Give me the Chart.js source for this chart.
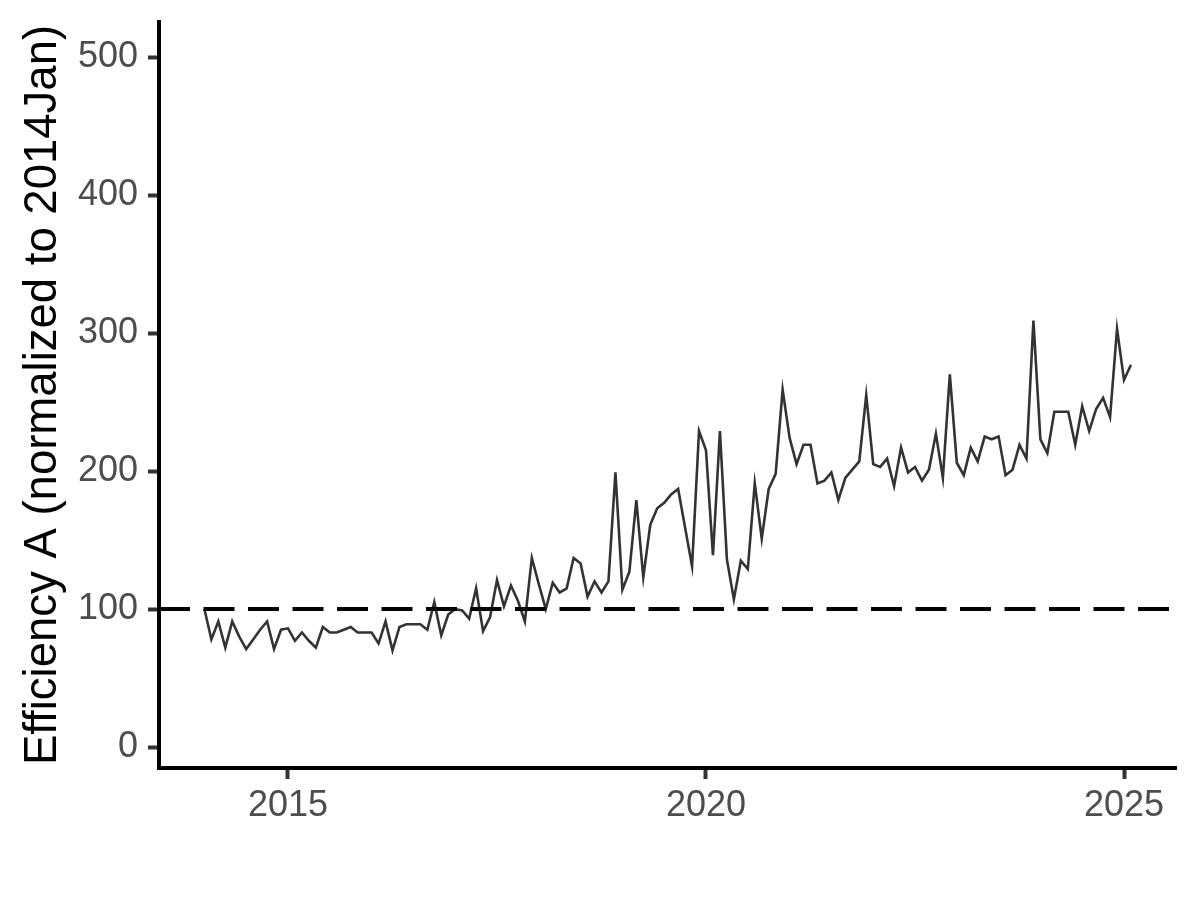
<!DOCTYPE html>
<html>
<head>
<meta charset="utf-8">
<script src="https://cdn.jsdelivr.net/npm/chart.js@4.4.1/dist/chart.umd.min.js"></script>
<style>
  html, body { margin: 0; padding: 0; background: #fff; }
  canvas { display: block; }
</style>
</head>
<body>
<canvas id="chart" width="1200" height="900"></canvas>
<script>
// monthly values, Jan..Dec
const startYear = 2014;
const v2014 = [100, 78, 91, 72, 91, 80, 71, 78, 85, 91, 71, 85];
const v2015 = [86, 77, 83, 77, 72, 87, 83, 83, 85, 87, 83, 83];
const v2016 = [83, 75, 91, 70, 87, 89, 89, 89, 85, 105, 81, 96];
const v2017 = [100, 99, 93, 115, 84, 94, 121, 102, 117, 106, 91, 137];
const v2018 = [118, 100, 119, 112, 115, 137, 133, 109, 120, 112, 120, 199];
const v2019 = [114, 127, 179, 123, 161, 173, 177, 183, 187, 159, 131, 229];
const v2020 = [215, 139, 229, 136, 107, 135, 129, 191, 151, 187, 198, 259];
const v2021 = [224, 205, 219, 219, 191, 193, 199, 179, 195, 201, 207, 255];
const v2022 = [205, 203, 209, 189, 217, 199, 203, 193, 201, 227, 195, 270];
const v2023 = [206, 197, 217, 207, 225, 223, 225, 197, 201, 219, 209, 309];
const v2024 = [223, 213, 243, 243, 243, 219, 247, 229, 245, 253, 239, 303];
const v2025 = [266, 277];

const xTicks = [2015, 2020, 2025];
const yTicks = [0, 100, 200, 300, 400, 500];
const baseline = 100;
const yTitle = "Efficiency A (normalized to 2014Jan)";

const xMin = 2013.457, xMax = 2025.622;
const yMin = -15.2, yMax = 525.4;

const years = [v2014, v2015, v2016, v2017, v2018, v2019, v2020, v2021, v2022, v2023, v2024, v2025];
const points = [];
years.forEach((vals, i) => {
  vals.forEach((v, m) => {
    points.push({ x: startYear + i + m / 12, y: v });
  });
});

const FONT = "'Liberation Sans', Arial, Helvetica, sans-serif";

new Chart(document.getElementById("chart"), {
  type: "line",
  data: {
    datasets: [
      {
        data: [{ x: xMin, y: baseline }, { x: xMax, y: baseline }],
        borderColor: "#000",
        borderWidth: 4,
        borderDash: [31, 13.5],
        pointRadius: 0,
        fill: false
      },
      {
        data: points,
        borderColor: "#333333",
        borderWidth: 2.6,
        pointRadius: 0,
        tension: 0,
        fill: false
      }
    ]
  },
  options: {
    responsive: false,
    animation: false,
    layout: { padding: { top: 22, right: 24, left: 0, bottom: 0 } },
    plugins: {
      legend: { display: false },
      tooltip: { enabled: false }
    },
    scales: {
      x: {
        type: "linear",
        min: xMin,
        max: xMax,
        afterBuildTicks: (s) => { s.ticks = xTicks.map(v => ({ value: v })); },
        afterFit: (s) => { s.height = 132; s.paddingLeft = 0; s.paddingRight = 0; },
        grid: { drawOnChartArea: false, tickLength: 11, tickWidth: 4, tickColor: "#333333" },
        border: { display: true, color: "#000", width: 4 },
        ticks: {
          color: "#4d4d4d",
          font: { family: FONT, size: 36 },
          padding: 5,
          maxRotation: 0,
          callback: (v) => String(v)
        }
      },
      y: {
        min: yMin,
        max: yMax,
        afterBuildTicks: (s) => { s.ticks = yTicks.map(v => ({ value: v })); },
        afterFit: (s) => { s.width = 159; s.paddingTop = 0; s.paddingBottom = 0; },
        grid: { drawOnChartArea: false, tickLength: 11, tickWidth: 4, tickColor: "#333333" },
        border: { display: true, color: "#000", width: 4 },
        ticks: {
          color: "#4d4d4d",
          font: { family: FONT, size: 36 },
          padding: 10,
          callback: (v) => String(v)
        },
        title: {
          display: true,
          text: yTitle,
          color: "#000",
          font: { family: FONT, size: 45.5 },
          padding: { top: 16, bottom: 0 }
        }
      }
    }
  }
});
</script>
</body>
</html>
